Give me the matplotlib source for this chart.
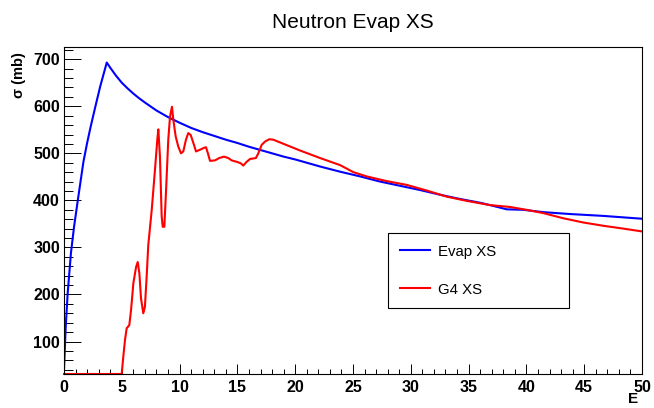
import numpy as np
import matplotlib
matplotlib.use("Agg")
import matplotlib.pyplot as plt
from matplotlib.ticker import MultipleLocator

plt.rcParams['font.family'] = ['Liberation Sans', 'DejaVu Sans']

# Evap XS (blue)
evap_e = [0.0, 0.15, 0.32, 0.6, 0.87, 1.24, 1.68, 2.0, 2.3, 2.7,
          3.13, 3.7, 4.0, 4.5, 5.0, 5.5, 6.0, 6.5, 7.0, 8.0,
          9.0, 10.0, 11.0, 12.0, 13.0, 14.0, 15.0, 16.0, 17.0, 18.0,
          19.0, 20.0, 22.15, 23.88, 25.61, 27.34, 29.07, 30.8, 32.53, 34.26,
          35.99, 36.85, 38.3, 39.73, 41.46, 43.77, 46.66, 50.0]
evap_xs = [40, 132, 203, 288, 344, 408, 482, 522, 556, 598,
           642, 693, 682, 665, 650, 638, 627, 617, 608, 591,
           577, 565, 554, 545, 537, 529, 522, 514, 507, 500,
           493, 487, 472, 461, 451, 440, 431, 422, 412, 403,
           395, 390, 381, 380, 375, 371, 367, 361]

# G4 XS (red)
g4_e = [0.0, 4.99, 5.13, 5.28, 5.42, 5.65, 5.8, 6.0, 6.24, 6.38,
        6.52, 6.66, 6.86, 7.0, 7.15, 7.29, 7.45, 7.59, 7.87, 8.07,
        8.16, 8.3, 8.45, 8.54, 8.68, 8.83, 9.02, 9.17, 9.34, 9.46,
        9.66, 9.89, 10.12, 10.32, 10.55, 10.75, 10.96, 11.19, 11.42, 11.71,
        12.05, 12.28, 12.45, 12.63, 13.06, 13.43, 13.84, 14.21, 14.5, 14.94,
        15.28, 15.51, 15.8, 16.09, 16.6, 16.81, 17.1, 17.39, 17.76, 18.1,
        20.42, 22.15, 23.88, 25.03, 26.18, 27.91, 29.64, 31.37, 33.1, 34.83,
        36.85, 38.58, 40.0, 41.46, 43.19, 44.92, 46.66, 48.39, 50.0]
g4_xs = [0, 0, 68, 104, 128, 135, 167, 224, 259, 269,
         245, 192, 160, 174, 238, 305, 345, 380, 465, 529,
         551, 493, 366, 344, 344, 422, 529, 578, 599, 571,
         536, 514, 500, 504, 529, 543, 539, 522, 504, 507,
         511, 513, 500, 484, 485, 490, 493, 490, 485, 482,
         479, 474, 482, 488, 490, 500, 518, 525, 530, 529,
         506, 490, 475, 460, 451, 441, 433, 421, 408, 399,
         390, 386, 380, 373, 362, 353, 346, 340, 334]

x_ticks = [0, 5, 10, 15, 20, 25, 30, 35, 40, 45, 50]
y_ticks = [100, 200, 300, 400, 500, 600, 700]
ylo, yhi = 31, 726

W, H = 654, 408
fig = plt.figure(figsize=(W / 100, H / 100), dpi=100)
ax = fig.add_axes([64 / W, 1 - 374 / H, (642 - 64) / W, (374 - 47) / H])

ax.plot(evap_e, evap_xs, color=(0, 0, 1), lw=1.5, label="Evap XS")
# ROOT draws points below the frame along its bottom edge
ax.plot(g4_e, np.maximum(g4_xs, ylo), color=(1, 0, 0), lw=1.5,
        label="G4 XS", clip_on=False)

ax.set_xlim(0, 50)
ax.set_ylim(ylo, yhi)
ax.set_xticks(x_ticks)
ax.set_yticks(y_ticks)
ax.xaxis.set_minor_locator(MultipleLocator(1))
ax.yaxis.set_minor_locator(MultipleLocator(20))
ax.tick_params(which='both', direction='in', top=False, right=False,
               width=0.7, labelsize=11.5)
ax.tick_params(axis='x', which='major', length=7, pad=4)
ax.tick_params(axis='x', which='minor', length=3.5)
ax.tick_params(axis='y', which='major', length=12.5, pad=3)
ax.tick_params(axis='y', which='minor', length=6.2)
for lab in ax.get_xticklabels() + ax.get_yticklabels():
    lab.set_fontweight('bold')
for s in ax.spines.values():
    s.set_linewidth(0.8)

fig.text(353 / W, 1 - 28 / H, "Neutron Evap XS", ha='center',
         va='baseline', fontsize=15)
fig.text(19 / W, 1 - 52 / H, "σ (mb)", rotation=90, ha='center', va='top',
         fontsize=10.5, fontweight='bold')
fig.text(638 / W, 1 - 399 / H, "E", ha='right', va='center',
         fontsize=11, fontweight='bold')

leg = ax.legend(loc='upper left',
                bbox_to_anchor=(388 / W, 1 - 233 / H, (569 - 388) / W, 0),
                bbox_transform=fig.transFigure, mode='expand',
                borderaxespad=0, fancybox=False, edgecolor='black',
                framealpha=1, fontsize=10.8, handlelength=2.05,
                handletextpad=0.5, borderpad=0.78, labelspacing=1.6)
leg.get_frame().set_linewidth(0.8)

fig.savefig("out.png", dpi=100)
